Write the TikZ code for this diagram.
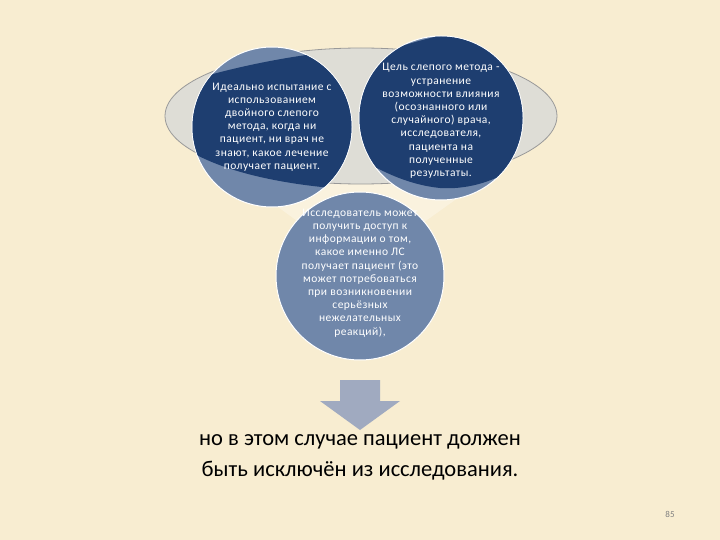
\documentclass[tikz,border=0pt]{standalone}
\usepackage{fontspec}
\setmainfont{Carlito}
\usetikzlibrary{positioning}
\definecolor{parchment}{RGB}{248,237,209}
\definecolor{steel}{RGB}{112,135,170}
\definecolor{navy}{RGB}{30,62,112}
\definecolor{rimgray}{RGB}{222,221,214}
\definecolor{arrowgray}{RGB}{160,170,192}
\tikzstyle{bubble} = [circle, fill=steel, draw=white, line width=1pt]
\tikzstyle{bubbletext} = [text=white, align=center, font=\fontsize{11.5}{13.2}\selectfont\addfontfeature{LetterSpace=4}]
\tikzstyle{conclusion} = [text=black, align=center, font=\fontsize{22.5}{31}\selectfont]

\begin{document}
\begin{tikzpicture}[x=1pt, y=-1pt]
            \fill[parchment] (0,0) rectangle (720,540);
            \useasboundingbox (0,0) rectangle (720,540);

            % funnel rim and body
            \fill[white, opacity=0.3] (200,150) -- (330,245) -- (392,245) -- (525,150) -- cycle;
            \filldraw[fill=rimgray, draw=gray!80, line width=0.8pt] (361,116) ellipse [x radius=196pt, y radius=68pt];

            \node[bubble, minimum size=168pt] (lower) at (360,276) {};
            \node[bubble, minimum size=160pt] (leftb) at (272,127) {};
            \node[bubble, minimum size=164pt] (rightb) at (441,118) {};
            \begin{scope}
                \clip (272,127) circle (79.5pt);
                \fill[navy] (180,84) .. controls (220,70) and (300,52) .. (360,50) -- (360,190)
                    .. controls (320,188) and (230,180) .. (180,145) -- cycle;
            \end{scope}
            \begin{scope}
                \clip (441,118) circle (81.5pt);
                \fill[navy] (350,66) .. controls (380,52) and (420,38) .. (470,30) -- (540,30) -- (540,145)
                    .. controls (510,180) and (470,190) .. (440,188) .. controls (410,185) and (380,172) .. (350,152) -- cycle;
            \end{scope}

            \node[bubbletext] (lefttxt) at (272,127) {Идеально испытание с\\использованием\\двойного слепого\\метода, когда ни\\пациент, ни врач не\\знают, какое лечение\\получает пациент.};
            \node[bubbletext] (righttxt) at (441,121) {Цель слепого метода -\\устранение\\возможности влияния\\(осознанного или\\случайного) врача,\\исследователя,\\пациента на\\полученные\\результаты.};
            \node[bubbletext] (lowertxt) at (360,273) {Исследователь может\\получить доступ к\\информации о том,\\какое именно ЛС\\получает пациент (это\\может потребоваться\\при возникновении\\серьёзных\\нежелательных\\реакций),};

            % block arrow
            \coordinate (tip) at (360,430);
            \fill[arrowgray] (340,380) -- (380,380) -- (380,401) -- (400,401) -- (tip) -- (320,401) -- (340,401) -- cycle;

            \node[conclusion, below=1pt of tip] (result) {но в этом случае пациент должен\\быть исключён из исследования.};
            \node[text=gray, font=\fontsize{9}{10}\selectfont] (pagenum) at (670,514) {85};
        \end{tikzpicture}
\end{document}
